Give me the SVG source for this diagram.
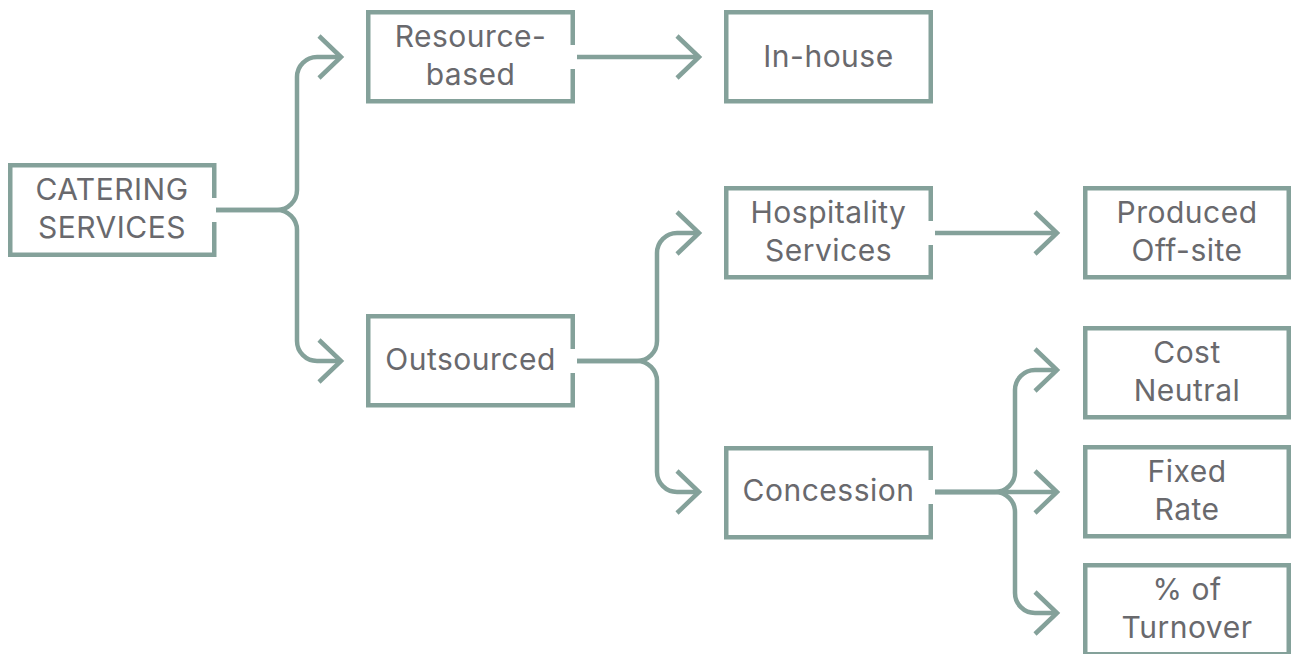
<svg xmlns="http://www.w3.org/2000/svg" width="1291" height="654" viewBox="0 0 1291 654">
  <style>
    .box { fill: #ffffff; stroke: #84a19a; stroke-width: 4.5; }
    .label { font-family: Inter, "Liberation Sans", sans-serif; font-size: 30px; letter-spacing: 0.5px; fill: #69696d; text-anchor: middle; }
    .link { fill: none; stroke: #84a19a; stroke-width: 4.5; stroke-linejoin: round; marker-end: url(#chevron); }
    .halo { fill: none; stroke: #ffffff; stroke-width: 24; }
  </style>
  <defs>
    <marker id="chevron" markerUnits="userSpaceOnUse" markerWidth="40" markerHeight="60" viewBox="-30 -30 40 60" refX="0" refY="0" orient="auto" overflow="visible">
      <path d="M-22,-21 L0,0 L-22,21" fill="none" stroke="#84a19a" stroke-width="4.5" stroke-linejoin="miter"/>
    </marker>
  </defs>
  <rect width="1291" height="654" fill="#ffffff"/>

  <!-- nodes -->
  <g id="catering">
    <rect class="box" x="10.25" y="165.25" width="204" height="89.5"/>
    <text class="label" x="112" y="200">CATERING</text>
    <text class="label" x="112" y="238">SERVICES</text>
  </g>
  <g id="resource-based">
    <rect class="box" x="368.25" y="12.25" width="204.5" height="89"/>
    <text class="label" x="470.5" y="47">Resource-</text>
    <text class="label" x="470.5" y="85">based</text>
  </g>
  <g id="in-house">
    <rect class="box" x="726.25" y="12.25" width="204.5" height="89"/>
    <text class="label" x="828.5" y="67">In-house</text>
  </g>
  <g id="outsourced">
    <rect class="box" x="368.25" y="316.25" width="204.5" height="89"/>
    <text class="label" x="470.5" y="370">Outsourced</text>
  </g>
  <g id="hospitality">
    <rect class="box" x="726.25" y="188.25" width="204.5" height="89"/>
    <text class="label" x="828.5" y="223">Hospitality</text>
    <text class="label" x="828.5" y="261">Services</text>
  </g>
  <g id="produced-off-site">
    <rect class="box" x="1085.25" y="188.25" width="203.5" height="89"/>
    <text class="label" x="1187" y="223">Produced</text>
    <text class="label" x="1187" y="261">Off-site</text>
  </g>
  <g id="concession">
    <rect class="box" x="726.25" y="448.25" width="204.5" height="89"/>
    <text class="label" x="828.5" y="501">Concession</text>
  </g>
  <g id="cost-neutral">
    <rect class="box" x="1085.25" y="328.25" width="203.5" height="89"/>
    <text class="label" x="1187" y="363">Cost</text>
    <text class="label" x="1187" y="401">Neutral</text>
  </g>
  <g id="fixed-rate">
    <rect class="box" x="1085.25" y="447.25" width="203.5" height="89"/>
    <text class="label" x="1187" y="482">Fixed</text>
    <text class="label" x="1187" y="520">Rate</text>
  </g>
  <g id="turnover">
    <rect class="box" x="1085.25" y="565.25" width="203.5" height="89"/>
    <text class="label" x="1187" y="600">% of</text>
    <text class="label" x="1187" y="638">Turnover</text>
  </g>

  <!-- connectors -->
  <g id="connectors">
    <!-- white breaks in the source borders where each line leaves -->
    <path class="halo" d="M211,210 H217"/>
    <path class="halo" d="M569,57 H576"/>
    <path class="halo" d="M569,361 H576"/>
    <path class="halo" d="M927,233 H934"/>
    <path class="halo" d="M927,492 H934"/>

    <path class="link" d="M216,210 H277 A20,20 0 0 0 297,190 V77 A20,20 0 0 1 317,57 H341"/>
    <path class="link" d="M216,210 H277 A20,20 0 0 1 297,230 V341 A20,20 0 0 0 317,361 H341"/>
    <path class="link" d="M577,57 H699"/>
    <path class="link" d="M577,361 H637 A20,20 0 0 0 657,341 V253 A20,20 0 0 1 677,233 H699"/>
    <path class="link" d="M577,361 H637 A20,20 0 0 1 657,381 V472 A20,20 0 0 0 677,492 H699"/>
    <path class="link" d="M935,233 H1057"/>
    <path class="link" d="M935,492 H995 A20,20 0 0 0 1015,472 V390 A20,20 0 0 1 1035,370 H1057"/>
    <path class="link" d="M935,492 H1057"/>
    <path class="link" d="M935,492 H995 A20,20 0 0 1 1015,512 V593 A20,20 0 0 0 1035,613 H1057"/>
  </g>
</svg>
